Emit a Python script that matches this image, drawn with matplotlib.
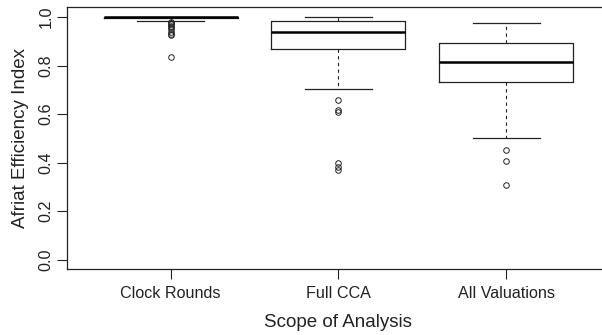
import matplotlib
matplotlib.use('Agg')
import matplotlib.pyplot as plt

# box statistics for each scope of analysis
scopes = ['Clock Rounds', 'Full CCA', 'All Valuations']
whislo = [0.985, 0.702, 0.501]
q1 = [0.997, 0.867, 0.731]
med = [1.000, 0.937, 0.816]
q3 = [1.000, 0.983, 0.894]
whishi = [1.000, 1.000, 0.977]
fliers = [
    [0.980, 0.975, 0.970, 0.965, 0.960, 0.950, 0.940, 0.932, 0.927, 0.837],
    [0.657, 0.617, 0.609, 0.400, 0.380, 0.369],
    [0.453, 0.407, 0.306],
]

plt.rcParams['font.family'] = ['Liberation Sans', 'DejaVu Sans']

stats = []
for i, name in enumerate(scopes):
    stats.append({'label': name, 'whislo': whislo[i], 'q1': q1[i], 'med': med[i],
                  'q3': q3[i], 'whishi': whishi[i], 'fliers': fliers[i]})

fig = plt.figure(figsize=(6.02, 3.35), dpi=100)
ax = fig.add_axes([0.1108, 0.196, 0.9025, 0.782])

ax.bxp(stats, positions=[1, 2, 3], widths=0.8, showfliers=True,
       boxprops=dict(color='#222222', linewidth=0.9),
       medianprops=dict(color='black', linewidth=1.8),
       whiskerprops=dict(color='#222222', linewidth=0.8, linestyle=(0, (3, 3))),
       capprops=dict(color='#222222', linewidth=0.9),
       capwidths=0.4,
       flierprops=dict(marker='o', markerfacecolor='none', markeredgecolor='#222222',
                       markersize=4, markeredgewidth=0.7))

ax.set_xlim(0.38, 3.62)
ax.set_ylim(-0.04, 1.04)
ax.set_yticks([0.0, 0.2, 0.4, 0.6, 0.8, 1.0])
ax.set_yticklabels(['0.0', '0.2', '0.4', '0.6', '0.8', '1.0'], rotation=90, va='center')
ax.set_xticks([1, 2, 3])
ax.set_xticklabels(scopes)
ax.tick_params(axis='both', direction='out', length=7, width=0.8, labelsize=11.6,
               color='#222222', labelcolor='#222222')
ax.tick_params(axis='x', pad=5)
ax.tick_params(axis='y', pad=2.5)
for s in ax.spines.values():
    s.set_linewidth(0.9)
    s.set_color('#222222')

ax.set_xlabel('Scope of Analysis', fontsize=13.5, color='#222222', labelpad=9)
ax.set_ylabel('Afriat Efficiency Index', fontsize=13.5, color='#222222', labelpad=7)

fig.savefig('out.png', dpi=100)
